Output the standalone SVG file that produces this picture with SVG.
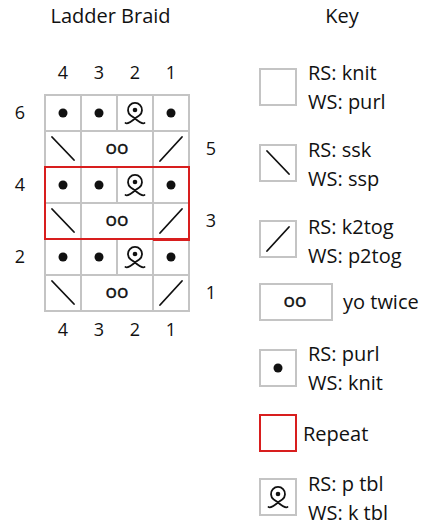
<svg xmlns="http://www.w3.org/2000/svg" width="438" height="531" viewBox="0 0 438 531">
<style>
.t{font-family:"Open Sans","Noto Sans","DejaVu Sans",sans-serif;font-size:20px;fill:#111}
.n{font-family:"Open Sans","Noto Sans","DejaVu Sans",sans-serif;font-size:18px;fill:#111;text-anchor:middle}
.oo{font-family:"Open Sans","Noto Sans","DejaVu Sans",sans-serif;font-size:19px;fill:#111;text-anchor:middle;stroke:#111;stroke-width:0.4}
.c{fill:#fff;stroke:#c4c4c4;stroke-width:2}
.s{stroke:#111;stroke-width:1.8;fill:none;stroke-linecap:round}
.d{fill:#111}
.r{fill:none;stroke:#d81e1e;stroke-width:2}
</style>
<defs>
<g id="ptbl"><path class="s" d="M-9.5,13 C-7,14.5 -3.5,11.5 0,8.5 C2,6.8 3.5,6 4.5,5.3 A7,7 0 1 0 -4.5,5.3 C-3.5,6 -2,6.8 0,8.5 C3.5,11.5 7,14.5 9.5,13"/><circle class="d" cx="0" cy="0" r="2.3"/></g>
<g id="dot"><circle class="d" cx="0" cy="0" r="4.5"/></g>
<g id="bs"><line class="s" x1="-11" y1="-12" x2="11" y2="11"/></g>
<g id="fs"><line class="s" x1="-11" y1="12" x2="11" y2="-12"/></g>
</defs>
<text class="t" x="110.5" y="23" text-anchor="middle">Ladder Braid</text>
<text class="t" x="342" y="23" text-anchor="middle">Key</text>
<g id="colnums-top"><text class="n" x="63" y="79">4</text><text class="n" x="99" y="79">3</text><text class="n" x="135" y="79">2</text><text class="n" x="171" y="79">1</text></g>
<g id="colnums-bottom"><text class="n" x="63" y="336">4</text><text class="n" x="99" y="336">3</text><text class="n" x="135" y="336">2</text><text class="n" x="171" y="336">1</text></g>
<g id="rownums"><text class="n" x="20" y="119">6</text><text class="n" x="211" y="155">5</text><text class="n" x="20" y="191">4</text><text class="n" x="211" y="227">3</text><text class="n" x="20" y="263">2</text><text class="n" x="211" y="299">1</text></g>
<g id="chart">
<g id="row6"><rect class="c" x="45" y="95" width="36" height="36"/><rect class="c" x="81" y="95" width="36" height="36"/><rect class="c" x="117" y="95" width="36" height="36"/><rect class="c" x="153" y="95" width="36" height="36"/>
<use href="#dot" x="63" y="113"/><use href="#dot" x="99" y="113"/><use href="#ptbl" x="135" y="110"/><use href="#dot" x="171" y="113"/></g>
<g id="row5"><rect class="c" x="45" y="131" width="36" height="36"/><rect class="c" x="81" y="131" width="72" height="36"/><rect class="c" x="153" y="131" width="36" height="36"/>
<use href="#bs" x="63" y="149"/><text class="oo" x="117" y="154">oo</text><use href="#fs" x="171" y="149"/></g>
<g id="row4"><rect class="c" x="45" y="167" width="36" height="36"/><rect class="c" x="81" y="167" width="36" height="36"/><rect class="c" x="117" y="167" width="36" height="36"/><rect class="c" x="153" y="167" width="36" height="36"/>
<use href="#dot" x="63" y="185"/><use href="#dot" x="99" y="185"/><use href="#ptbl" x="135" y="182"/><use href="#dot" x="171" y="185"/></g>
<g id="row3"><rect class="c" x="45" y="203" width="36" height="36"/><rect class="c" x="81" y="203" width="72" height="36"/><rect class="c" x="153" y="203" width="36" height="36"/>
<use href="#bs" x="63" y="221"/><text class="oo" x="117" y="226">oo</text><use href="#fs" x="171" y="221"/></g>
<g id="row2"><rect class="c" x="45" y="239" width="36" height="36"/><rect class="c" x="81" y="239" width="36" height="36"/><rect class="c" x="117" y="239" width="36" height="36"/><rect class="c" x="153" y="239" width="36" height="36"/>
<use href="#dot" x="63" y="257"/><use href="#dot" x="99" y="257"/><use href="#ptbl" x="135" y="254"/><use href="#dot" x="171" y="257"/></g>
<g id="row1"><rect class="c" x="45" y="275" width="36" height="36"/><rect class="c" x="81" y="275" width="72" height="36"/><rect class="c" x="153" y="275" width="36" height="36"/>
<use href="#bs" x="63" y="293"/><text class="oo" x="117" y="298">oo</text><use href="#fs" x="171" y="293"/></g>
</g>
<g id="repeat"><rect class="r" x="45" y="167" width="144" height="72"/><line x1="153" y1="239.5" x2="190" y2="239.5" stroke="#d81e1e" stroke-width="3"/></g>
<g id="key">
<g id="key-knit"><rect class="c" x="260" y="69" width="36" height="36"/><text class="t" x="308" y="80">RS: knit</text><text class="t" x="308" y="109">WS: purl</text></g>
<g id="key-ssk"><rect class="c" x="260" y="145" width="36" height="36"/><use href="#bs" x="278" y="163"/><text class="t" x="308" y="157">RS: ssk</text><text class="t" x="308" y="186">WS: ssp</text></g>
<g id="key-k2tog"><rect class="c" x="260" y="221" width="36" height="36"/><use href="#fs" x="278" y="239"/><text class="t" x="308" y="234">RS: k2tog</text><text class="t" x="308" y="263">WS: p2tog</text></g>
<g id="key-yo"><rect class="c" x="260" y="284" width="72" height="36"/><text class="oo" x="295" y="307">oo</text><text class="t" x="343" y="309">yo twice</text></g>
<g id="key-purl"><rect class="c" x="260" y="350" width="36" height="36"/><use href="#dot" x="278" y="368"/><text class="t" x="308" y="361">RS: purl</text><text class="t" x="308" y="390">WS: knit</text></g>
<g id="key-repeat"><rect class="r" x="260" y="415" width="36" height="36"/><text class="t" x="303" y="441">Repeat</text></g>
<g id="key-ptbl"><rect class="c" x="260" y="479" width="36" height="36"/><use href="#ptbl" x="278" y="494"/><text class="t" x="308" y="491">RS: p tbl</text><text class="t" x="308" y="520">WS: k tbl</text></g>
</g>
</svg>
